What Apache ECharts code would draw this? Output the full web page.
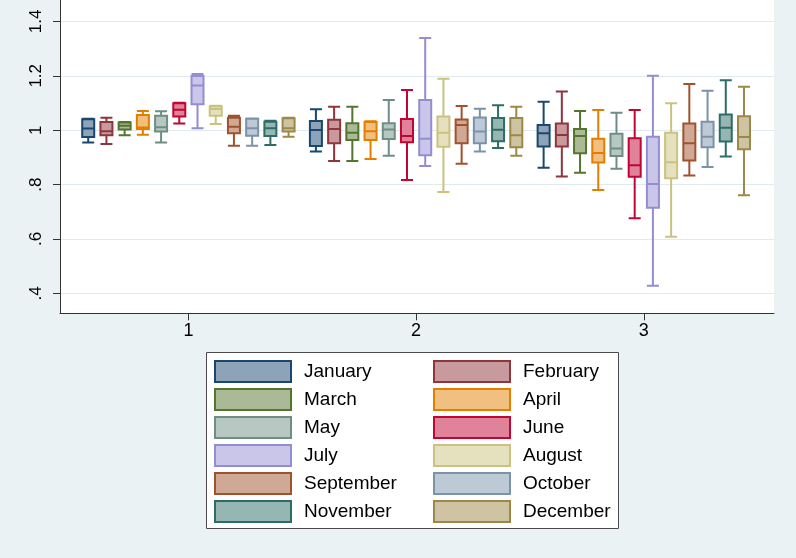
<!DOCTYPE html>
<html><head><meta charset="utf-8">
<script src="https://cdn.jsdelivr.net/npm/echarts@6/dist/echarts.min.js"></script>
<style>html,body{margin:0;padding:0;background:#eaf2f3}#c{width:796px;height:558px}</style>
</head><body><div id="c"></div>
<script>
// group categories on the x axis
const groups = [1, 2, 3];
const months = ['January','February','March','April','May','June','July','August','September','October','November','December'];
const borderColors = ['#1a476f','#90353b','#55752f','#e37e00','#6e8e84','#c10534','#938dd2','#cac27e','#a0522d','#7b92a8','#2d6d66','#9c8847'];
const fillColors   = ['#8da3b7','#c89a9d','#aaba97','#f1bf80','#b7c7c2','#e08299','#c9c6e9','#e5e1bf','#d0a996','#bdc9d4','#96b6b3','#cec4a3'];
// per month: [min, Q1, median, Q3, max] for groups 1, 2, 3
const january   = [[0.955,0.975,1.006,1.040,1.042],[0.922,0.942,1.001,1.034,1.077],[0.862,0.940,0.989,1.019,1.105]];
const february  = [[0.949,0.981,0.996,1.030,1.046],[0.887,0.952,1.004,1.038,1.086],[0.830,0.940,0.982,1.025,1.142]];
const march     = [[0.981,1.003,1.016,1.028,1.030],[0.887,0.964,0.991,1.026,1.086],[0.844,0.915,0.979,1.004,1.071]];
const april     = [[0.983,1.004,1.010,1.056,1.071],[0.894,0.964,0.996,1.030,1.033],[0.780,0.881,0.916,0.969,1.074]];
const may       = [[0.955,0.995,1.011,1.053,1.070],[0.906,0.968,1.003,1.026,1.111],[0.858,0.905,0.933,0.987,1.064]];
const june      = [[1.025,1.050,1.075,1.099,1.101],[0.817,0.956,0.979,1.041,1.148],[0.676,0.829,0.871,0.970,1.074]];
const july      = [[1.007,1.095,1.164,1.199,1.207],[0.868,0.908,0.969,1.111,1.339],[0.428,0.715,0.802,0.976,1.200]];
const august    = [[1.023,1.053,1.078,1.088,1.090],[0.773,0.939,0.991,1.050,1.189],[0.608,0.823,0.882,0.991,1.099]];
const september = [[0.943,0.989,1.013,1.046,1.053],[0.877,0.952,1.019,1.039,1.089],[0.833,0.889,0.952,1.025,1.170]];
const october   = [[0.943,0.980,1.007,1.042,1.043],[0.922,0.952,0.995,1.047,1.079],[0.865,0.937,0.976,1.031,1.145]];
const november  = [[0.946,0.979,1.007,1.031,1.035],[0.935,0.959,1.002,1.045,1.092],[0.903,0.958,1.009,1.058,1.184]];
const december  = [[0.976,0.995,1.007,1.044,1.046],[0.906,0.937,0.981,1.045,1.086],[0.761,0.930,0.975,1.051,1.160]];
const monthData = [january,february,march,april,may,june,july,august,september,october,november,december];
const yTicks = [0.4,0.6,0.8,1,1.2,1.4];
const yTickLabels = ['.4','.6','.8','1','1.2','1.4'];
const xTickLabels = ['1','2','3'];

const FONT = '"Liberation Sans", Arial, sans-serif';
const xMin = 0.4361, xMax = 3.5718, yMin = 0.3268, yMax = 1.4787;
const pitch = 0.08; // spacing between month boxes within a group (x units)

const chart = echarts.init(document.getElementById('c'), null, {renderer:'canvas'});
const xAxes = [], series = [];
months.forEach((m, i) => {
  xAxes.push({
    type:'value', gridIndex:0, min:xMin, max:xMax, show: i === 0,
    axisLine:{show:true, onZero:false, lineStyle:{color:'#333', width:1}},
    axisTick:{show:true, length:7, customValues:groups, lineStyle:{color:'#333'}},
    axisLabel:{show:true, customValues:groups, margin:9, fontSize:18, color:'#000', fontFamily:FONT,
      formatter:(v)=>xTickLabels[groups.indexOf(Math.round(v))] || ''},
    splitLine:{show:false}
  });
  series.push({
    name:m, type:'boxplot', xAxisIndex:i, yAxisIndex:0,
    boxWidth:[12,12],
    itemStyle:{color:fillColors[i], borderColor:borderColors[i], borderWidth:2},
    emphasis:{disabled:true},
    data: monthData[i].map((q, g) => [groups[g] + (i - 5.5) * pitch].concat(q))
  });
});

const legendItems = months.map((m, i) => ({
  name:m, icon:'rect',
  itemStyle:{color:fillColors[i], borderColor:borderColors[i], borderWidth:2}
}));
const legendCommon = {
  orient:'vertical', itemWidth:76, itemHeight:21, itemGap:5, padding:0, icon:'rect',
  selectedMode:false,
  textStyle:{fontSize:19, color:'#000', fontFamily:FONT, padding:[0,0,0,8], lineHeight:21}
};

chart.setOption({
  animation:false,
  backgroundColor:'#eaf2f3',
  grid:{left:60, top:0, right:22, bottom:244.7, show:true, backgroundColor:'#fff', borderWidth:0},
  xAxis:xAxes,
  yAxis:{
    type:'value', gridIndex:0, min:yMin, max:yMax,
    axisLine:{show:true, onZero:false, lineStyle:{color:'#333', width:1}},
    axisTick:{show:true, length:7, customValues:yTicks, lineStyle:{color:'#333'}},
    axisLabel:{show:true, customValues:yTicks, rotate:90, margin:15, fontSize:17, color:'#000', fontFamily:FONT,
      formatter:(v)=>{let best=0; yTicks.forEach((t,k)=>{if(Math.abs(t-v)<Math.abs(yTicks[best]-v)) best=k;}); return yTickLabels[best];}},
    splitLine:{show:true, lineStyle:{color:'#e0ebf0', width:1}}
  },
  legend:[
    Object.assign({}, legendCommon, {left:214, top:360, data:legendItems.filter((_,k)=>k%2===0)}),
    Object.assign({}, legendCommon, {left:433, top:360, data:legendItems.filter((_,k)=>k%2===1)})
  ],
  graphic:[{type:'rect', z:0, shape:{x:206.5, y:352.5, width:412, height:176}, style:{fill:'#fff', stroke:'#4a4a4a', lineWidth:1}}],
  series:series
});
</script></body></html>
